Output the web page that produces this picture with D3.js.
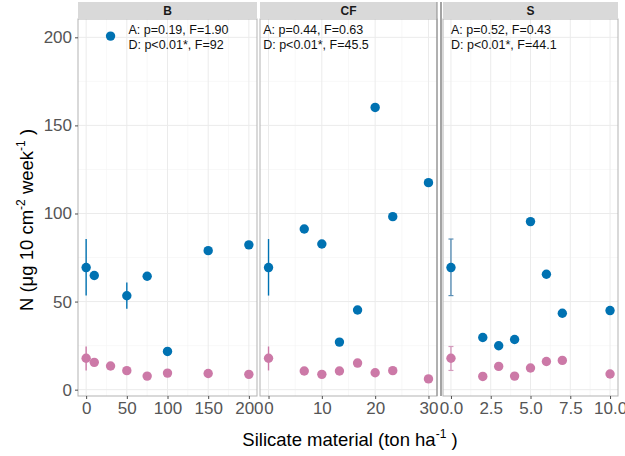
<!DOCTYPE html>
<html>
<head>
<meta charset="utf-8">
<script src="https://cdn.jsdelivr.net/npm/d3@7"></script>
<style>
  body { margin: 0; background: #fff; }
  text { font-family: "Liberation Sans", Arial, sans-serif; }
</style>
</head>
<body>
<div id="chart"></div>
<script>
// facet names and stats text
const panels = ["B", "CF", "S"];
const statsA = ["A: p=0.19, F=1.90", "A: p=0.44, F=0.63", "A: p=0.52, F=0.43"];
const statsD = ["D: p<0.01*, F=92", "D: p<0.01*, F=45.5", "D: p<0.01*, F=44.1"];
const annX = [52, -1, 0];

// B
const bX = [0, 10, 30, 50, 75, 100, 150, 200];
const bA = [69.3, 64.8, 200.7, 53.3, 64.4, 21.7, 78.9, 82.2];
const bD = [17.8, 15.5, 13.4, 10.8, 7.7, 9.4, 9.2, 8.7];
// CF
const cfX = [0, 6.7, 10, 13.3, 16.7, 20, 23.3, 30];
const cfA = [69.3, 91.2, 82.7, 27.0, 45.2, 160.2, 98.2, 117.5];
const cfD = [17.8, 10.6, 8.7, 10.6, 15.1, 9.6, 10.8, 6.1];
// S
const sX = [0, 2, 3, 4, 5, 6, 7, 10];
const sA = [69.3, 29.6, 24.9, 28.5, 95.4, 65.5, 43.4, 44.9];
const sD = [17.8, 7.5, 13.2, 7.7, 12.3, 16.0, 16.6, 8.9];

// error bars: [x, low, high] per panel
const errA = [[[0, 53.4, 85.5], [50, 45.9, 60.8]], [[0, 53.4, 85.5]], [[0, 53.4, 85.5]]];
const errD = [[[0, 10.9, 24.5]], [[0, 10.9, 24.5]], [[0, 10.9, 24.5]]];

const xTicks = [[0, 50, 100, 150, 200], [0, 10, 20, 30], [0, 2.5, 5, 7.5, 10]];
const xMinor = [[25, 75, 125, 175], [5, 15, 25], [1.25, 3.75, 6.25, 8.75]];
const yTicks = [0, 50, 100, 150, 200];
const yMinor = [25, 75, 125, 175];

const colA = "#0072B2", colD = "#CC79A7";

const W = 625, H = 456;
const svg = d3.select("#chart").append("svg")
  .attr("width", W).attr("height", H);

const yTop = 19, yBot = 396;
const y = d3.scaleLinear().domain([-3.6, 210.4]).range([yBot, yTop]);

const layout = [
  {x0: 78, x1: 257, dom: [-10, 210], xs: bX, a: bA, d: bD, fmt: d3.format("d"), caps: false},
  {x0: 260, x1: 437, dom: [-1.6, 31.6], xs: cfX, a: cfA, d: cfD, fmt: d3.format("d"), caps: false},
  {x0: 443, x1: 618, dom: [-0.5, 10.5], xs: sX, a: sA, d: sD, fmt: d3.format(".1f"), caps: true}
];

layout.forEach((p, i) => {
  const x = d3.scaleLinear().domain(p.dom).range([p.x0, p.x1]);
  const g = svg.append("g");

  // minor grid
  g.append("g").selectAll("line").data(yMinor).join("line")
    .attr("x1", p.x0).attr("x2", p.x1)
    .attr("y1", d => y(d)).attr("y2", d => y(d))
    .attr("stroke", "#f4f4f4").attr("stroke-width", 0.6);
  g.append("g").selectAll("line").data(xMinor[i]).join("line")
    .attr("x1", d => x(d)).attr("x2", d => x(d))
    .attr("y1", yTop).attr("y2", yBot)
    .attr("stroke", "#f4f4f4").attr("stroke-width", 0.6);
  // major grid
  g.append("g").selectAll("line").data(yTicks).join("line")
    .attr("x1", p.x0).attr("x2", p.x1)
    .attr("y1", d => y(d)).attr("y2", d => y(d))
    .attr("stroke", "#ebebeb").attr("stroke-width", 1);
  g.append("g").selectAll("line").data(xTicks[i]).join("line")
    .attr("x1", d => x(d)).attr("x2", d => x(d))
    .attr("y1", yTop).attr("y2", yBot)
    .attr("stroke", "#ebebeb").attr("stroke-width", 1);

  // panel border
  g.append("rect")
    .attr("x", p.x0).attr("y", yTop)
    .attr("width", p.x1 - p.x0).attr("height", yBot - yTop)
    .attr("fill", "none").attr("stroke", "#b3b3b3").attr("stroke-width", 1);

  // strip
  g.append("rect")
    .attr("x", p.x0).attr("y", 2)
    .attr("width", p.x1 - p.x0).attr("height", yTop - 2)
    .attr("fill", "#d9d9d9");
  g.append("text")
    .attr("x", (p.x0 + p.x1) / 2).attr("y", 15)
    .attr("text-anchor", "middle")
    .attr("font-size", 12).attr("font-weight", "bold")
    .attr("fill", "#1a1a1a")
    .text(panels[i]);

  // x axis
  const xa = g.append("g")
    .attr("transform", `translate(0,${yBot})`)
    .call(d3.axisBottom(x).tickValues(xTicks[i]).tickFormat(p.fmt).tickSize(3).tickPadding(3));
  xa.select(".domain").remove();
  xa.selectAll("line").attr("stroke", "#4d4d4d");
  xa.selectAll("text").attr("font-size", 17).attr("fill", "#555")
    .attr("font-family", "Liberation Sans, Arial, sans-serif");

  // error bars
  const ebA = p.caps ? "#5b8fb5" : colA;
  const ebD = p.caps ? "#d49bbd" : colD;
  [[errA[i], ebA], [errD[i], ebD]].forEach(([list, c]) => {
    list.forEach(e => {
      g.append("line")
        .attr("x1", x(e[0])).attr("x2", x(e[0]))
        .attr("y1", y(e[1])).attr("y2", y(e[2]))
        .attr("stroke", c).attr("stroke-width", 1.4);
      if (p.caps) {
        [e[1], e[2]].forEach(v => g.append("line")
          .attr("x1", x(e[0]) - 2.5).attr("x2", x(e[0]) + 2.5)
          .attr("y1", y(v)).attr("y2", y(v))
          .attr("stroke", c).attr("stroke-width", 1.2));
      }
    });
  });

  // points
  g.append("g").selectAll("circle").data(p.xs.map((v, k) => [v, p.d[k]])).join("circle")
    .attr("cx", d => x(d[0])).attr("cy", d => y(d[1]))
    .attr("r", 4.7).attr("fill", colD);
  g.append("g").selectAll("circle").data(p.xs.map((v, k) => [v, p.a[k]])).join("circle")
    .attr("cx", d => x(d[0])).attr("cy", d => y(d[1]))
    .attr("r", 4.7).attr("fill", colA);

  // stats annotation
  g.append("text").attr("x", x(annX[i])).attr("y", 33.5)
    .attr("font-size", 12.5).attr("fill", "#111").text(statsA[i]);
  g.append("text").attr("x", x(annX[i])).attr("y", 48.5)
    .attr("font-size", 12.5).attr("fill", "#111").text(statsD[i]);
});

// darker divider before S
svg.append("line")
  .attr("x1", 441).attr("x2", 441).attr("y1", 2).attr("y2", yBot)
  .attr("stroke", "#666").attr("stroke-width", 1.2);
svg.append("line")
  .attr("x1", 437).attr("x2", 437).attr("y1", 2).attr("y2", yBot)
  .attr("stroke", "#888").attr("stroke-width", 1);

// y axis
const ya = svg.append("g")
  .attr("transform", "translate(78,0)")
  .call(d3.axisLeft(y).tickValues(yTicks).tickSize(3).tickPadding(3));
ya.select(".domain").remove();
ya.selectAll("line").attr("stroke", "#4d4d4d");
ya.selectAll("text").attr("font-size", 17).attr("fill", "#555")
  .attr("font-family", "Liberation Sans, Arial, sans-serif");

// axis titles
const xt = svg.append("text")
  .attr("x", 350).attr("y", 446)
  .attr("text-anchor", "middle")
  .attr("font-size", 18.5).attr("fill", "#000");
xt.append("tspan").text("Silicate material (ton ha");
xt.append("tspan").attr("dy", -8).attr("font-size", 12).text("-1");
xt.append("tspan").attr("dy", 8).text(" )");

const yt = svg.append("text")
  .attr("transform", "translate(33,220) rotate(-90)")
  .attr("text-anchor", "middle")
  .attr("font-size", 18.5).attr("fill", "#000");
yt.append("tspan").text("N (μg 10 cm");
yt.append("tspan").attr("dy", -8).attr("font-size", 12).text("-2");
yt.append("tspan").attr("dy", 8).text(" week");
yt.append("tspan").attr("dy", -8).attr("font-size", 12).text("-1");
yt.append("tspan").attr("dy", 8).text(" )");
</script>
</body>
</html>
